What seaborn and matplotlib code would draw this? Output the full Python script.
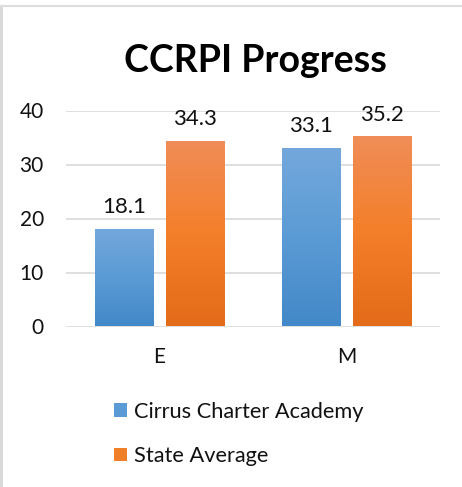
import numpy as np
import pandas as pd
import matplotlib
matplotlib.use("Agg")
import matplotlib.pyplot as plt
import seaborn as sns
from matplotlib.colors import LinearSegmentedColormap
from matplotlib.patches import Rectangle, Patch
from matplotlib.lines import Line2D

categories = ["E", "M"]
series_names = ["Cirrus Charter Academy", "State Average"]
cirrus = [18.1, 33.1]
state = [34.3, 35.2]
yticks = [0, 10, 20, 30, 40]
title = "CCRPI Progress"

df = pd.DataFrame({
    "Category": categories * 2,
    "Value": cirrus + state,
    "Series": [series_names[0]] * len(categories) + [series_names[1]] * len(categories),
})

sns.set_theme(style="white")
plt.rcParams["font.family"] = ["Lato", "DejaVu Sans"]

mid_colors = ["#5b9bd5", "#f07f2a"]
grads = [
    ["#4388c8", "#5b9bd5", "#74a8dc"],
    ["#e36b19", "#f47f2a", "#f08d58"],
]

FS = 15

fig = plt.figure(figsize=(4.62, 4.87), dpi=100)
ax = fig.add_axes([66 / 462, (487 - 326.5) / 487, (440 - 66) / 462, (326.5 - 110.5) / 487])

sns.barplot(data=df, x="Category", y="Value", hue="Series", order=categories,
            hue_order=series_names, palette=mid_colors, width=0.76, gap=0.18,
            ax=ax, legend=False, zorder=3)

ax.set_ylim(0, 40)
ax.set_xlim(-0.5, len(categories) - 0.5)
ax.set_yticks(yticks)
ax.set_xlabel("")
ax.set_ylabel("")
for s in ax.spines.values():
    s.set_visible(False)
ax.grid(axis="y", color="#d9d9d9", linewidth=1.2, zorder=0)
ax.grid(axis="x", visible=False)
ax.tick_params(axis="y", length=0, pad=16, labelsize=FS, labelcolor="#111111")
ax.tick_params(axis="x", length=0, pad=15, labelsize=FS, labelcolor="#111111")

# gradient fill + labels
for ci, cont in enumerate(ax.containers):
    cmap = LinearSegmentedColormap.from_list("g%d" % ci, grads[ci])
    for bar in cont:
        x0 = bar.get_x()
        w = bar.get_width()
        h = bar.get_height()
        grad = np.linspace(0, 1, 256).reshape(-1, 1)
        im = ax.imshow(grad, extent=[x0, x0 + w, 0, h], origin="lower",
                       cmap=cmap, aspect="auto", zorder=3.5)
        im.set_clip_path(bar)
        bar.set_alpha(0.0)
    ax.bar_label(cont, fmt="%.1f", padding=8.5, fontsize=16, color="#111111")

ax.set_ylim(0, 40)
ax.set_xlim(-0.5, len(categories) - 0.5)

fig.text(255 / 462, (487 - 72) / 487, title, ha="center", va="baseline",
         fontsize=27, fontweight="bold", color="#000000")

handles = [Patch(facecolor=mid_colors[i], edgecolor="none", label=series_names[i]) for i in range(2)]
fig.legend(handles=handles, loc="center left", bbox_to_anchor=(114 / 462, (487 - 434) / 487),
           frameon=False, fontsize=15.7, handlelength=0.6, handleheight=0.6,
           handletextpad=0.3, labelspacing=1.12, borderpad=0, borderaxespad=0,
           labelcolor="#111111")

# page border
fig.add_artist(Rectangle((0, 0), 3 / 462, (487 - 6) / 487, transform=fig.transFigure,
                         facecolor="#d9d9d9", edgecolor="none"))
fig.add_artist(Line2D([0, 1], [(487 - 5.5) / 487] * 2, transform=fig.transFigure,
                      color="#dddddd", linewidth=1.5))

fig.savefig("out.png", dpi=100)
